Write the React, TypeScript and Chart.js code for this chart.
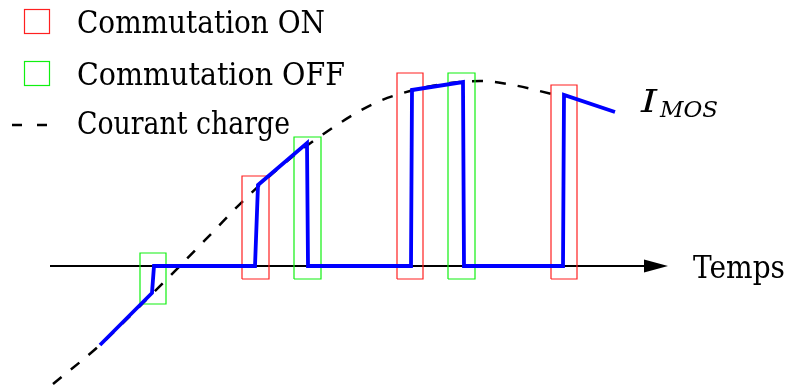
import React, { useEffect, useRef } from "react";
import { Chart, registerables } from "chart.js";

Chart.register(...registerables);

// Load current (dashed curve), time / current in arbitrary units
const chargeT = [0.3, 5, 9, 12, 16.2, 19.3, 23, 27.2, 32.3, 36, 40, 43, 46.3, 50.2];
const chargeI = [-11.8, -7.9, -4.0, -1.0, 3.3, 6.5, 9.9, 13.1, 16.2, 17.5, 18.3, 18.5, 18.1, 17.2];

// I_MOS waveform
const imosT = [5, 10.2, 10.4, 20.5, 20.8, 25.7, 25.8, 36.1, 36.2, 41.3, 41.4, 51.3, 51.4, 56.5];
const imosI = [-7.9, -2.7, 0, 0, 8.1, 12.3, 0, 0, 17.6, 18.4, 0, 0, 17.1, 15.4];

// Commutation windows
const boxKind = ["OFF", "ON", "OFF", "ON", "OFF", "ON"];
const boxT0 = [9.0, 19.2, 24.4, 34.7, 39.8, 50.1];
const boxT1 = [11.6, 21.9, 27.1, 37.3, 42.5, 52.7];
const boxLow = [-3.8, -1.3, -1.3, -1.3, -1.3, -1.3];
const boxHigh = [1.3, 9.0, 12.9, 19.3, 19.3, 18.1];

// Time axis
const axisStart = 0;
const axisEnd = 61.8;
const arrowLen = 2.4;

const legendLabels = ["Commutation ON", "Commutation OFF", "Courant charge"];
const axisLabel = "Temps";
const curveLabel = "I";
const curveSub = "MOS";

const RED = "#ff2020";
const GREEN = "#10f010";
const BLUE = "#0000ff";
const FONT = '"DejaVu Serif", serif';

export default function App() {
  const ref = useRef<HTMLCanvasElement | null>(null);

  useEffect(() => {
    if (!ref.current) return;

    const boxDatasets = boxKind.map((k, i) => ({
      label: "box" + i,
      data: [
        { x: boxT0[i], y: boxLow[i] },
        { x: boxT1[i], y: boxLow[i] },
        { x: boxT1[i], y: boxHigh[i] },
        { x: boxT0[i], y: boxHigh[i] },
        { x: boxT0[i], y: boxLow[i] },
      ],
      showLine: true,
      borderColor: k === "ON" ? RED : GREEN,
      borderWidth: 1.2,
      pointRadius: 0,
      tension: 0,
      order: 2,
    }));

    const overlay = {
      id: "overlay",
      afterDatasetsDraw(chart: any) {
        const ctx = chart.ctx as CanvasRenderingContext2D;
        const xs = chart.scales.x;
        const ys = chart.scales.y;
        const y0 = ys.getPixelForValue(0);
        const tip = xs.getPixelForValue(axisEnd);
        const base = xs.getPixelForValue(axisEnd - arrowLen);
        ctx.save();
        // arrow head
        ctx.fillStyle = "#000";
        ctx.beginPath();
        ctx.moveTo(base, y0 - 6.5);
        ctx.lineTo(tip, y0);
        ctx.lineTo(base, y0 + 6.5);
        ctx.closePath();
        ctx.fill();

        // legend
        ctx.lineWidth = 1.2;
        ctx.strokeStyle = RED;
        ctx.strokeRect(24.5, 9.5, 25, 24);
        ctx.strokeStyle = GREEN;
        ctx.strokeRect(24.5, 61.5, 25, 24);
        ctx.strokeStyle = "#000";
        ctx.lineWidth = 2.5;
        ctx.setLineDash([10, 15]);
        ctx.beginPath();
        ctx.moveTo(12, 125);
        ctx.lineTo(50, 125);
        ctx.stroke();
        ctx.setLineDash([]);

        ctx.fillStyle = "#000";
        ctx.textBaseline = "alphabetic";
        const fit = (s: string, x: number, y: number, w: number) => {
          const m = ctx.measureText(s).width;
          ctx.save();
          ctx.translate(x, y);
          ctx.scale(w / m, 1);
          ctx.fillText(s, 0, 0);
          ctx.restore();
        };
        ctx.font = `31px ${FONT}`;
        fit(legendLabels[0], 77, 33, 248);
        fit(legendLabels[1], 77, 85, 268);
        fit(legendLabels[2], 77, 134, 213);

        // axis label
        fit(axisLabel, 693, 278, 92);

        // I_MOS label
        ctx.font = `italic 31px ${FONT}`;
        fit(curveLabel, 641, 112, 16);
        ctx.font = `italic 22px ${FONT}`;
        fit(curveSub, 660, 117, 58);
        ctx.restore();
      },
    };

    const chart = new Chart(ref.current, {
      type: "scatter",
      data: {
        datasets: [
          {
            label: "I_MOS",
            data: imosT.map((t, i) => ({ x: t, y: imosI[i] })),
            showLine: true,
            borderColor: BLUE,
            borderWidth: 3.8,
            pointRadius: 0,
            tension: 0,
            borderJoinStyle: "miter",
            order: 0,
          } as any,
          ...boxDatasets,
          {
            label: "Courant charge",
            data: chargeT.map((t, i) => ({ x: t, y: chargeI[i] })),
            showLine: true,
            borderColor: "#000",
            borderWidth: 2.5,
            borderDash: [11, 12],
            pointRadius: 0,
            cubicInterpolationMode: "monotone",
            order: 3,
          } as any,
          {
            label: "axis",
            data: [
              { x: axisStart, y: 0 },
              { x: axisEnd - arrowLen + 0.3, y: 0 },
            ],
            showLine: true,
            borderColor: "#000",
            borderWidth: 2,
            pointRadius: 0,
            order: 4,
          },
        ],
      },
      options: {
        animation: false,
        responsive: false,
        layout: { padding: 0 },
        plugins: { legend: { display: false }, tooltip: { enabled: false } },
        scales: {
          x: { type: "linear", min: -5, max: 73.8, display: false },
          y: { type: "linear", min: -12.1, max: 26.6, display: false },
        },
      },
      plugins: [overlay],
    });
    let alive = true;
    if ((document as any).fonts) {
      Promise.all([
        (document as any).fonts.load(`31px ${FONT}`),
        (document as any).fonts.load(`italic 31px ${FONT}`),
      ]).then(() => {
        if (alive) chart.draw();
      });
    }
    return () => {
      alive = false;
      chart.destroy();
    };
  }, []);

  return (
    <div style={{ position: "absolute", left: 0, top: 0, width: 788, height: 387, background: "#fff" }}>
      <canvas ref={ref} width={788} height={387} />
    </div>
  );
}
